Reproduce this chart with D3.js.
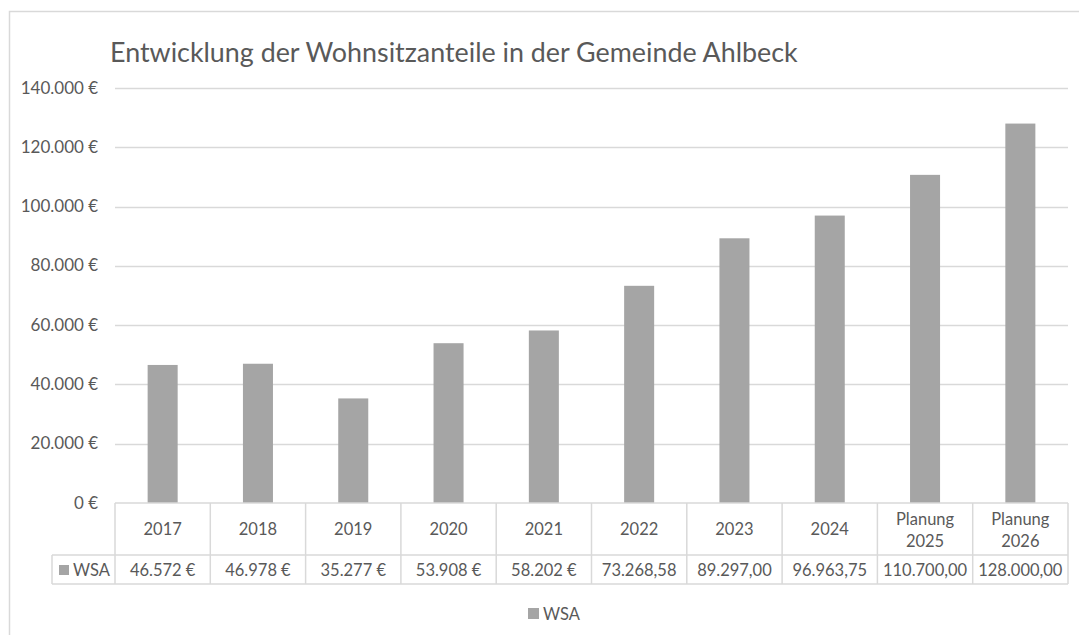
<!DOCTYPE html>
<html><head><meta charset="utf-8">
<script src="https://cdn.jsdelivr.net/npm/d3@7"></script>
<style>body{margin:0;background:#fff}svg{display:block}text{font-family:Lato,"Open Sans",sans-serif;fill:#595959}</style>
</head><body>
<svg id="c" width="1079" height="635"></svg>
<script>
const categories = [["2017"],["2018"],["2019"],["2020"],["2021"],["2022"],["2023"],["2024"],["Planung","2025"],["Planung","2026"]];
const values = [46572, 46978, 35277, 53908, 58202, 73268.58, 89297, 96963.75, 110700, 128000];
const valueLabels = ["46.572\u202F€","46.978\u202F€","35.277\u202F€","53.908\u202F€","58.202\u202F€","73.268,58","89.297,00","96.963,75","110.700,00","128.000,00"];
const yTicks = [0,20000,40000,60000,80000,100000,120000,140000];
const seriesName = "WSA";
const title = "Entwicklung der Wohnsitzanteile in der Gemeinde Ahlbeck";

const svg = d3.select("#c");
const grid = "#d9d9d9", barColor = "#a5a5a5";
const L = 115, R = 1068, T = 88, B = 503;
const x = d3.scaleBand().domain(d3.range(categories.length)).range([L,R]).paddingInner(0.685).paddingOuter(0.3425);
const xCell = d3.scaleBand().domain(d3.range(categories.length)).range([L,R]);
const y = d3.scaleLinear().domain([0,140000]).range([B,T]);
const fmt = v => d3.format(",")(v).replace(/,/g,".") + "\u202F€";
const fs = 16.5;

// outer border
svg.append("path").attr("d","M9.5,635 V11.5 H1079").attr("fill","none").attr("stroke",grid).attr("stroke-width",1.5);

// title
const t = svg.append("text").attr("x",110).attr("y",62).attr("font-size",24).text(title);
const tw = t.node().getComputedTextLength();
t.attr("font-size", 24*688/tw);

// gridlines
svg.append("g").selectAll("line").data(yTicks.filter(d=>d>0)).join("line")
  .attr("x1",L).attr("x2",R).attr("y1",d=>Math.round(y(d))+0.5).attr("y2",d=>Math.round(y(d))+0.5)
  .attr("stroke",grid).attr("stroke-width",1.3);
svg.append("g").selectAll("text").data(yTicks).join("text")
  .attr("x",98).attr("y",d=>y(d)+5.5).attr("text-anchor","end").attr("font-size",17).text(fmt);

// bars
svg.append("g").selectAll("rect").data(values).join("rect")
  .attr("x",(d,i)=>x(i)).attr("width",x.bandwidth()).attr("y",d=>y(d)).attr("height",d=>B-y(d))
  .attr("fill",barColor);

// data table
const rowTop = B, rowMid = 555, rowBot = 584, legL = 52;
const tb = svg.append("g").attr("stroke",grid).attr("stroke-width",1.5).attr("fill","none");
tb.append("line").attr("x1",L).attr("x2",R).attr("y1",rowTop).attr("y2",rowTop);
tb.append("line").attr("x1",legL).attr("x2",R).attr("y1",rowMid).attr("y2",rowMid);
tb.append("line").attr("x1",legL).attr("x2",R).attr("y1",rowBot).attr("y2",rowBot);
tb.append("line").attr("x1",legL).attr("x2",legL).attr("y1",rowMid).attr("y2",rowBot);
tb.selectAll(".v").data(d3.range(categories.length+1)).join("line")
  .attr("x1",i=>i<categories.length?xCell(i):R).attr("x2",i=>i<categories.length?xCell(i):R)
  .attr("y1",rowTop).attr("y2",rowBot);

const cx = i => xCell(i)+xCell.bandwidth()/2;
svg.append("g").selectAll("text").data(categories).join("text")
  .attr("text-anchor","middle").attr("font-size",fs)
  .each(function(d,i){
    const s = d3.select(this);
    const y0 = d.length===1 ? 535 : 525;
    d.forEach((line,k)=>s.append("tspan").attr("x",cx(i)).attr("y",y0+k*21.5).text(line));
  });
svg.append("g").selectAll("text").data(valueLabels).join("text")
  .attr("x",(d,i)=>cx(i)).attr("y",576).attr("text-anchor","middle").attr("font-size",fs).text(d=>d);

// legend key in table
svg.append("rect").attr("x",59).attr("y",565).attr("width",10).attr("height",10).attr("fill",barColor);
svg.append("text").attr("x",73).attr("y",576).attr("font-size",fs).text(seriesName);

// bottom legend
svg.append("rect").attr("x",528).attr("y",608).attr("width",11).attr("height",11).attr("fill",barColor);
svg.append("text").attr("x",543).attr("y",620).attr("font-size",fs).text(seriesName);
</script>
</body></html>
